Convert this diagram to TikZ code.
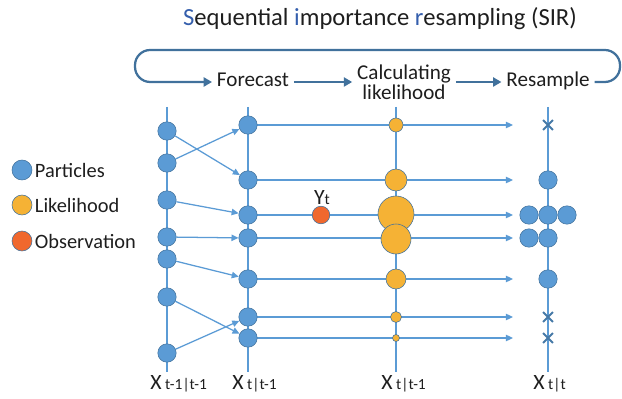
\documentclass[tikz,border=0pt]{standalone}
\usepackage{fontspec}
\setmainfont{Carlito}
\usetikzlibrary{arrows.meta,backgrounds,shapes.misc}
\definecolor{pblue}{RGB}{91,155,213}
\definecolor{pedge}{RGB}{65,113,156}
\definecolor{lgold}{RGB}{245,178,53}
\definecolor{obsred}{RGB}{240,104,46}
\definecolor{ttlblue}{RGB}{52,94,172}
\definecolor{txt}{RGB}{30,30,30}

\begin{document}
\begin{tikzpicture}[x=0.025cm,y=-0.025cm,
  particle/.style={circle,fill=pblue,draw=pedge,line width=0.4pt,inner sep=0pt,minimum size=0.46cm},
  lhood/.style={circle,fill=lgold,draw=pedge,line width=0.4pt,inner sep=0pt,minimum size=#1},
  obs/.style={circle,fill=obsred,draw=pedge,line width=0.4pt,inner sep=0pt,minimum size=0.44cm},
  drop/.style={cross out,draw=pedge!80!pblue,line width=1.4pt,inner sep=0pt,minimum size=0.2cm},
  rail/.style={pblue,line width=2pt},
  move/.style={pblue,line width=0.9pt,-{Triangle[length=5pt,width=4.5pt]}},
  stage/.style={pedge,line width=1.6pt,-{Triangle[length=6pt,width=6.5pt]}},
  lbl/.style={font=\fontsize{14.5}{14.5}\selectfont,text=txt},
  flowtxt/.style={lbl,font=\fontsize{15}{15}\selectfont,text height=1.6ex,text depth=0.4ex},
  sub/.style={lbl,font=\fontsize{15.5}{15.5}\selectfont,anchor=base west,inner sep=0pt}]
  \useasboundingbox (0,0) rectangle (622,399);

  \node[lbl,font=\fontsize{17.5}{18}\selectfont,anchor=base] (title) at (380,26)
    {{\color{ttlblue}S}equential {\color{ttlblue}i}mportance {\color{ttlblue}r}esampling (SIR)};

  \node[flowtxt] (fore) at (253,82) {Forecast};
  \node[lbl,align=center,font=\fontsize{15}{12}\selectfont] (calc) at (404,82) {Calculating\\likelihood};
  \node[flowtxt] (resamp) at (548,82) {Resample};
  \draw[stage,rounded corners=0.38cm] (resamp.east) -- (620,82) -- (620,50) -- (135,50) -- (135,82) -- (fore.west);
  \draw[stage] (fore.east) -- (calc.west);
  \draw[stage] (calc.east) -- (resamp.west);

  \node[particle,minimum size=0.5cm] (kp) at (22,170) {};
  \node[lhood=0.5cm] (kl) at (22,205) {};
  \node[obs,minimum size=0.5cm] (ko) at (22,241) {};
  \node[lbl,anchor=west] at (30,170) {Particles};
  \node[lbl,anchor=west] at (30,205) {Likelihood};
  \node[lbl,anchor=west] at (30,241) {Observation};

  \foreach \y [count=\i] in {131,163,200,237,259,297,353}
    \node[particle] (a\i) at (167,\y) {};
  \foreach \y [count=\i] in {125,180,215,238,279,317,338} {
    \node[particle] (b\i) at (248,\y) {};
    \coordinate (e\i) at (513,\y);
  }
  \foreach \y/\d [count=\i] in {125/0.35,180/0.55,214/0.9,239/0.75,279/0.5,317/0.275,338/0.175}
    \node[lhood=\d cm] (l\i) at (396,\y) {};

  \node[obs] (yt) at (321,215) {};
  \node[lbl,anchor=base,font=\fontsize{15.5}{15.5}\selectfont] (ytl) at (322,204) {Y{\fontsize{11}{11}\selectfont t}};

  \node[drop] (r1) at (548,125) {};
  \node[particle] (r2) at (548,180) {};
  \node[particle] (r3a) at (529,215) {};
  \node[particle] (r3b) at (548,215) {};
  \node[particle] (r3c) at (567,215) {};
  \node[particle] (r4a) at (529,238) {};
  \node[particle] (r4b) at (548,238) {};
  \node[particle] (r5) at (548,279) {};
  \node[drop] (r6) at (548,317) {};
  \node[drop] (r7) at (548,338) {};

  \begin{scope}[on background layer]
    \foreach \x in {167,248,396,548}
      \draw[rail] (\x,107) -- (\x,372);
    \foreach \i in {1,...,7}
      \draw[move] (b\i) -- (e\i);
  \end{scope}

  \draw[move] (a1) -- (b2);
  \draw[move] (a2) -- (b1);
  \draw[move] (a3) -- (b3);
  \draw[move] (a4) -- (b4);
  \draw[move] (a5) -- (b5);
  \draw[move] (a6) -- (b7);
  \draw[move] (a7) -- (b6);

  \node[sub] (xa) at (150,389) {X\,{\fontsize{11}{11}\selectfont t-1|t-1}};
  \node[sub] (xb) at (232,389) {X\,{\fontsize{11}{11}\selectfont t|t-1}};
  \node[sub] (xc) at (381,389) {X\,{\fontsize{11}{11}\selectfont t|t-1}};
  \node[sub] (xd) at (533,389) {X\,{\fontsize{11}{11}\selectfont t|t}};
\end{tikzpicture}
\end{document}
